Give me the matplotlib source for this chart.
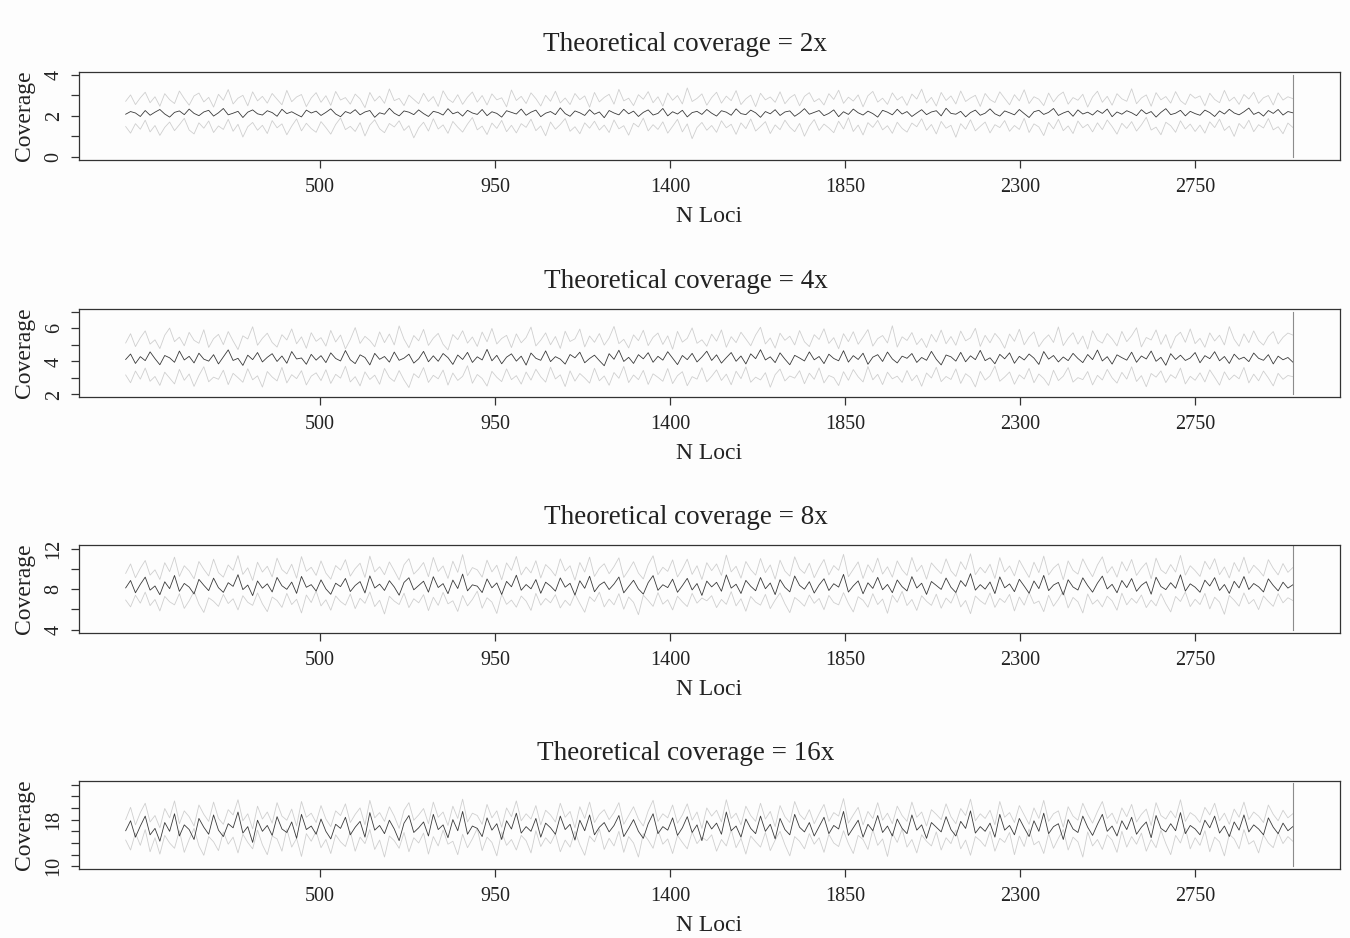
import numpy as np
import matplotlib
matplotlib.use("Agg")
import matplotlib.pyplot as plt

# coverage per locus: dark = mean line, upper/lower = grey lines
dark_2x = [2.08, 2.21, 2.14, 1.97, 2.26, 2.03, 2.18, 2.31, 2.09, 1.94, 2.17, 2.24, 2.06, 2.33, 2.12, 2.01, 2.19, 2.27, 1.99, 2.15,
           2.36, 2.05, 2.13, 2.22, 1.92, 2.18, 2.29, 2.10, 2.04, 2.25, 2.16, 1.98, 2.32, 2.11, 2.20, 2.07, 1.95, 2.28, 2.14, 2.23,
           2.02, 2.17, 2.34, 2.09, 1.96, 2.21, 2.12, 2.30, 2.05, 2.19, 2.26, 1.93, 2.15, 2.08, 2.37, 2.13, 2.00, 2.24, 2.18, 2.06,
           2.29, 2.11, 1.97, 2.22, 2.16, 2.04, 2.35, 2.10, 2.19, 1.99, 2.27, 2.14, 2.07, 2.31, 2.01, 2.20, 2.12, 1.94, 2.25, 2.17,
           2.09, 2.33, 2.03, 2.18, 2.28, 1.96, 2.13, 2.21, 2.06, 2.39, 2.11, 1.98, 2.24, 2.15, 2.02, 2.30, 2.08, 2.19, 1.91, 2.26,
           2.14, 2.05, 2.32, 2.10, 2.23, 1.97, 2.17, 2.29, 2.04, 2.12, 2.36, 2.00, 2.20, 2.09, 2.27, 1.95, 2.16, 2.22, 2.07, 2.31,
           2.13, 1.99, 2.25, 2.18, 2.03, 2.34, 2.11, 2.06, 2.28, 2.15, 1.93, 2.21, 2.10, 2.30, 2.02, 2.19, 2.24, 1.98, 2.14, 2.35,
           2.08, 2.17, 2.26, 2.01, 2.12, 2.29, 1.96, 2.20, 2.07, 2.33, 2.15, 2.04, 2.23, 2.11, 1.94, 2.27, 2.18, 2.05, 2.32, 2.09,
           2.21, 1.97, 2.14, 2.30, 2.06, 2.19, 2.25, 2.00, 2.37, 2.12, 2.08, 2.22, 1.95, 2.16, 2.28, 2.03, 2.13, 2.34, 2.10, 1.99,
           2.24, 2.15, 2.05, 2.31, 2.11, 1.92, 2.20, 2.27, 2.07, 2.17, 2.36, 2.02, 2.14, 2.23, 1.98, 2.29, 2.09, 2.18, 2.04, 2.26,
           2.12, 2.33, 1.96, 2.19, 2.08, 2.25, 2.15, 2.01, 2.30, 2.10, 2.21, 1.94, 2.17, 2.35, 2.06, 2.13, 2.27, 2.00, 2.22, 2.11,
           2.03, 2.28, 2.16, 1.97, 2.24, 2.09, 2.32, 2.14, 2.05, 2.20, 2.38, 2.07, 2.18, 1.99, 2.26, 2.12, 2.31, 2.04, 2.21, 2.15]
upper_2x = [2.71, 3.02, 2.55, 2.88, 3.15, 2.64, 2.93, 2.47, 3.08, 2.79, 2.60, 3.21, 2.84, 2.52, 2.97, 3.11, 2.68, 2.90, 2.43, 3.05,
            2.76, 3.28, 2.58, 2.86, 3.00, 2.49, 3.17, 2.73, 2.95, 2.62, 3.09, 2.81, 2.54, 3.24, 2.69, 2.92, 3.04, 2.45, 2.87, 3.13,
            2.66, 2.98, 2.51, 3.19, 2.77, 2.89, 2.57, 3.06, 2.83, 2.40, 3.14, 2.72, 2.96, 2.61, 3.31, 2.74, 2.85, 2.50, 3.01, 2.80,
            2.59, 3.10, 2.70, 2.94, 2.46, 3.22, 2.82, 2.65, 3.03, 2.56, 2.91, 3.16, 2.67, 2.99, 2.53, 3.07, 2.78, 2.88, 2.44, 3.26,
            2.75, 2.95, 2.60, 3.12, 2.84, 2.48, 3.00, 2.71, 3.20, 2.63, 2.87, 2.55, 3.09, 2.79, 2.97, 2.42, 3.14, 2.68, 2.90, 3.05,
            2.57, 3.29, 2.73, 2.86, 2.50, 3.03, 2.81, 3.18, 2.64, 2.93, 2.47, 3.11, 2.76, 2.99, 2.58, 3.36, 2.70, 2.85, 3.07, 2.52,
            2.89, 3.15, 2.62, 2.96, 2.74, 3.23, 2.55, 2.83, 3.01, 2.45, 3.10, 2.78, 2.92, 2.66, 3.17, 2.59, 2.88, 3.04, 2.49, 2.95,
            3.13, 2.69, 2.84, 2.53, 3.08, 2.80, 3.25, 2.61, 2.91, 2.72, 3.02, 2.44, 2.98, 3.19, 2.67, 2.86, 2.56, 3.12, 2.77, 2.94,
            2.51, 3.06, 2.82, 3.30, 2.63, 2.90, 2.48, 3.14, 2.75, 2.97, 2.58, 3.21, 2.70, 2.87, 3.00, 2.46, 3.09, 2.79, 2.65, 3.17,
            2.85, 2.54, 3.03, 2.73, 3.27, 2.60, 2.93, 2.81, 2.50, 3.11, 2.68, 2.99, 3.16, 2.57, 2.89, 2.76, 3.05, 2.43, 2.92, 3.20,
            2.66, 2.95, 2.52, 3.08, 2.83, 2.71, 3.32, 2.59, 2.87, 3.02, 2.47, 3.13, 2.78, 2.94, 2.62, 3.18, 2.74, 2.55, 3.06, 2.86,
            2.97, 2.49, 3.10, 2.80, 2.64, 3.24, 2.72, 2.91, 2.56, 3.04, 2.82, 3.15, 2.61, 2.88, 2.99, 2.53, 3.12, 2.77, 2.93, 2.84]
lower_2x = [1.48, 1.16, 1.62, 1.35, 1.79, 1.22, 1.53, 1.05, 1.44, 1.70, 1.28, 1.57, 1.88, 1.31, 1.12, 1.66, 1.40, 1.75, 1.19, 1.51,
            1.34, 1.83, 1.25, 1.59, 0.97, 1.47, 1.68, 1.30, 1.54, 1.14, 1.77, 1.42, 1.61, 1.08, 1.50, 1.85, 1.27, 1.64, 1.38, 1.20,
            1.72, 1.43, 1.11, 1.58, 1.90, 1.33, 1.49, 1.24, 1.67, 1.02, 1.55, 1.81, 1.37, 1.18, 1.63, 1.46, 1.76, 1.29, 1.52, 0.93,
            1.41, 1.69, 1.26, 1.86, 1.36, 1.56, 1.15, 1.73, 1.45, 1.21, 1.60, 1.92, 1.32, 1.50, 1.09, 1.65, 1.39, 1.78, 1.23, 1.54,
            1.17, 1.62, 1.44, 1.84, 1.28, 1.51, 1.03, 1.70, 1.35, 1.58, 1.87, 1.25, 1.47, 1.13, 1.66, 1.40, 1.74, 1.31, 1.55, 1.19,
            1.80, 1.37, 1.52, 1.06, 1.64, 1.46, 1.89, 1.27, 1.57, 1.34, 1.71, 1.16, 1.49, 1.83, 1.22, 1.61, 0.89, 1.43, 1.68, 1.30,
            1.53, 1.20, 1.76, 1.42, 1.59, 1.10, 1.66, 1.38, 1.85, 1.26, 1.48, 1.72, 1.14, 1.56, 1.33, 1.79, 1.45, 1.23, 1.63, 1.01,
            1.50, 1.82, 1.29, 1.60, 1.41, 1.18, 1.74, 1.36, 1.91, 1.24, 1.55, 1.07, 1.67, 1.44, 1.78, 1.32, 1.52, 1.15, 1.69, 1.39,
            1.21, 1.65, 1.47, 1.86, 1.30, 1.58, 1.12, 1.73, 1.40, 1.54, 0.96, 1.62, 1.35, 1.81, 1.27, 1.49, 1.70, 1.17, 1.57, 1.43,
            1.77, 1.25, 1.53, 1.34, 1.88, 1.19, 1.61, 1.46, 1.04, 1.68, 1.37, 1.83, 1.28, 1.51, 1.14, 1.75, 1.42, 1.59, 1.22, 1.66,
            1.33, 1.80, 1.48, 1.11, 1.64, 1.39, 1.72, 1.26, 1.56, 1.93, 1.31, 1.45, 1.08, 1.69, 1.52, 1.20, 1.76, 1.36, 1.60, 1.24,
            1.55, 1.16, 1.71, 1.43, 1.84, 1.29, 1.50, 1.00, 1.63, 1.38, 1.79, 1.23, 1.57, 1.41, 1.87, 1.32, 1.47, 1.13, 1.65, 1.44]

dark_4x = [4.12, 4.45, 3.88, 4.29, 4.05, 4.58, 4.17, 3.80, 4.36, 4.22, 3.95, 4.63, 4.09, 4.31, 3.91, 4.50, 4.14, 4.02, 4.41, 3.85,
           4.27, 4.70, 4.06, 4.19, 3.76, 4.38, 4.11, 4.54, 3.97, 4.25, 4.47, 4.00, 4.33, 3.89, 4.60, 4.15, 4.21, 3.83, 4.43, 4.08,
           4.35, 3.93, 4.52, 4.18, 4.03, 4.66, 4.10, 3.87, 4.40, 4.24, 3.79, 4.49, 4.13, 4.30, 3.96, 4.57, 4.07, 4.20, 4.44, 3.90,
           4.16, 4.61, 3.98, 4.34, 4.01, 4.48, 4.23, 3.82, 4.39, 4.12, 4.55, 3.94, 4.28, 4.09, 4.73, 4.04, 4.37, 3.86, 4.26, 4.46,
           4.02, 4.32, 3.78, 4.51, 4.19, 4.07, 4.64, 3.99, 4.29, 4.14, 3.84, 4.42, 4.22, 4.56, 3.92, 4.18, 4.38, 4.05, 3.74, 4.47,
           4.13, 4.68, 4.00, 4.25, 3.88, 4.41, 4.16, 4.53, 3.95, 4.31, 4.08, 4.59, 4.20, 3.81, 4.36, 4.11, 4.49, 3.97, 4.27, 4.62,
           4.06, 4.40, 3.90, 4.23, 4.54, 4.01, 4.33, 3.85, 4.46, 4.17, 4.71, 4.09, 4.28, 3.93, 4.52, 4.14, 3.80, 4.37, 4.21, 4.03,
           4.58, 4.10, 4.30, 3.87, 4.44, 4.18, 4.04, 4.65, 3.96, 4.35, 4.12, 4.50, 3.83, 4.26, 4.41, 4.00, 4.57, 4.15, 3.91, 4.32,
           4.19, 4.48, 3.94, 4.24, 4.07, 4.61, 4.13, 3.79, 4.39, 4.28, 4.02, 4.55, 3.98, 4.34, 4.11, 4.67, 4.05, 4.22, 3.86, 4.43,
           4.16, 4.52, 3.89, 4.31, 4.09, 4.45, 4.20, 3.82, 4.60, 4.14, 4.36, 3.97, 4.27, 4.05, 4.49, 4.18, 3.93, 4.42, 4.11, 4.69,
           4.03, 4.29, 3.84, 4.40, 4.23, 4.08, 4.56, 3.95, 4.33, 4.15, 4.63, 4.01, 4.25, 3.77, 4.47, 4.12, 4.38, 4.06, 4.21, 4.54,
           3.92, 4.35, 4.17, 4.59, 4.04, 4.30, 3.88, 4.44, 4.13, 4.26, 3.99, 4.51, 4.19, 4.07, 4.41, 3.85, 4.32, 4.10, 4.24, 3.96]
upper_4x = [5.12, 5.68, 4.90, 5.43, 5.85, 5.05, 5.31, 4.78, 5.59, 6.02, 5.20, 5.47, 4.95, 5.76, 5.28, 5.10, 5.92, 4.85, 5.38, 5.64,
            5.02, 5.81, 5.24, 4.72, 5.55, 5.36, 6.10, 4.98, 5.40, 5.71, 5.15, 4.87, 5.62, 5.30, 5.97, 5.07, 5.49, 4.80, 5.74, 5.22,
            5.44, 4.93, 5.88, 5.18, 5.60, 4.76, 5.33, 6.05, 5.09, 5.52, 5.27, 4.89, 5.79, 5.14, 5.66, 5.00, 6.15, 5.35, 4.83, 5.57,
            5.25, 5.94, 4.97, 5.41, 5.70, 5.04, 4.70, 5.63, 5.32, 5.86, 5.11, 5.48, 4.91, 5.78, 5.19, 6.00, 5.06, 5.39, 5.58, 4.84,
            5.67, 5.13, 5.45, 6.08, 4.94, 5.29, 5.73, 5.01, 5.51, 4.79, 5.83, 5.21, 5.37, 5.96, 4.88, 5.54, 5.16, 5.69, 4.99, 5.42,
            6.12, 5.08, 5.34, 4.82, 5.61, 5.26, 5.89, 4.96, 5.46, 5.72, 5.03, 5.55, 4.74, 5.82, 5.17, 5.40, 6.03, 5.10, 5.31, 4.92,
            5.65, 5.23, 5.91, 4.86, 5.50, 5.14, 5.77, 5.36, 4.95, 5.60, 6.07, 5.06, 5.42, 4.81, 5.71, 5.28, 5.53, 5.00, 5.87, 5.19,
            4.90, 5.62, 5.33, 5.98, 5.09, 5.44, 4.77, 5.68, 5.20, 5.80, 5.04, 5.47, 5.93, 4.93, 5.38, 5.57, 5.12, 6.16, 4.87, 5.49,
            5.27, 5.75, 5.02, 5.39, 4.84, 5.64, 5.18, 5.90, 5.07, 5.51, 4.98, 5.84, 5.25, 5.43, 6.01, 4.91, 5.58, 5.13, 5.70, 5.35,
            4.80, 5.66, 5.22, 5.95, 5.01, 5.48, 5.79, 4.89, 5.32, 5.61, 5.15, 6.09, 4.96, 5.41, 5.74, 5.05, 5.54, 4.75, 5.86, 5.29,
            5.11, 5.69, 5.37, 4.94, 5.82, 5.20, 5.56, 6.04, 4.88, 5.45, 5.30, 5.91, 5.03, 5.63, 4.79, 5.50, 5.77, 5.16, 5.97, 5.08,
            5.40, 4.86, 5.73, 5.24, 5.59, 5.00, 6.11, 5.34, 4.92, 5.67, 5.14, 5.85, 5.26, 4.99, 5.52, 5.81, 5.06, 5.46, 5.72, 5.60]
lower_4x = [3.18, 2.71, 3.42, 2.93, 3.60, 2.80, 3.09, 2.55, 3.35, 3.00, 2.64, 3.52, 2.86, 3.24, 2.49, 3.15, 3.68, 2.77, 3.05, 2.92,
            3.47, 2.60, 3.28, 3.02, 2.74, 3.56, 2.89, 3.13, 2.45, 3.39, 3.06, 2.82, 3.64, 2.70, 3.20, 2.96, 3.44, 2.58, 3.11, 3.31,
            2.84, 3.50, 2.67, 3.22, 2.99, 3.71, 2.76, 3.08, 2.52, 3.37, 2.91, 3.17, 2.62, 3.58, 3.03, 2.79, 3.45, 2.88, 2.42, 3.26,
            3.01, 3.63, 2.73, 3.16, 2.95, 3.48, 2.57, 3.30, 2.85, 3.10, 3.74, 2.68, 3.21, 2.97, 2.51, 3.40, 3.04, 2.78, 3.55, 2.90,
            3.14, 2.63, 3.36, 2.87, 3.53, 3.07, 2.75, 3.66, 2.94, 3.19, 2.48, 3.43, 2.81, 3.27, 3.00, 2.69, 3.59, 2.83, 3.12, 2.56,
            3.33, 2.98, 3.70, 2.72, 3.18, 2.90, 3.46, 2.61, 3.25, 3.04, 2.80, 3.57, 2.66, 3.14, 3.38, 2.53, 3.08, 2.93, 3.62, 2.77,
            3.10, 3.49, 2.85, 3.23, 2.59, 3.41, 2.96, 3.67, 2.74, 3.05, 2.88, 3.32, 2.44, 3.20, 3.54, 2.82, 3.12, 2.99, 3.44, 2.65,
            3.29, 2.92, 3.61, 2.70, 3.15, 3.02, 2.54, 3.38, 2.86, 3.51, 3.07, 2.76, 3.69, 2.89, 3.22, 2.60, 3.35, 2.95, 3.11, 2.73,
            3.45, 2.83, 3.17, 2.50, 3.30, 3.00, 3.65, 2.78, 3.09, 2.91, 3.55, 2.67, 3.26, 3.03, 2.46, 3.40, 2.87, 3.13, 3.72, 2.80,
            3.06, 3.36, 2.62, 3.19, 2.94, 3.58, 2.71, 3.24, 2.97, 2.55, 3.47, 2.84, 3.11, 3.63, 2.75, 3.02, 2.90, 3.39, 2.58, 3.16,
            2.88, 3.52, 3.01, 2.69, 3.34, 2.93, 3.68, 2.79, 3.14, 2.47, 3.27, 3.05, 3.43, 2.72, 3.20, 2.98, 3.60, 2.64, 3.10, 2.86,
            3.31, 2.76, 3.49, 3.04, 2.57, 3.37, 2.89, 3.18, 2.95, 3.64, 2.70, 3.23, 2.83, 3.42, 3.00, 2.52, 3.28, 2.92, 3.15, 3.08]

dark_8x = [8.12, 8.85, 7.64, 8.47, 9.18, 7.90, 8.31, 7.45, 8.72, 8.05, 9.34, 7.78, 8.56, 8.20, 7.52, 8.96, 8.38, 7.85, 9.08, 8.14,
           7.68, 8.63, 8.27, 9.42, 7.95, 8.40, 7.36, 8.80, 8.09, 8.52, 7.72, 9.15, 8.33, 7.98, 8.69, 7.58, 9.25, 8.18, 8.44, 7.81,
           8.91, 8.02, 7.49, 8.58, 8.25, 9.05, 7.76, 8.36, 8.74, 7.62, 9.30, 8.11, 8.49, 7.87, 8.83, 8.21, 7.40, 8.66, 9.12, 7.93,
           8.35, 8.78, 7.70, 9.22, 8.16, 8.54, 7.55, 8.89, 8.06, 9.48, 7.83, 8.42, 8.29, 7.66, 9.00, 8.13, 8.61, 7.47, 8.76, 8.23,
           9.37, 7.89, 8.45, 8.03, 8.94, 7.59, 8.68, 8.30, 7.80, 9.10, 8.19, 8.57, 7.42, 8.82, 8.08, 9.27, 7.74, 8.39, 8.71, 7.96,
           8.50, 9.19, 7.63, 8.26, 8.87, 8.01, 7.51, 8.64, 9.33, 7.88, 8.43, 8.15, 8.98, 7.69, 8.34, 9.06, 7.92, 8.55, 7.38, 8.79,
           8.22, 8.67, 7.79, 9.40, 8.10, 8.48, 7.57, 8.86, 8.28, 7.84, 9.14, 8.04, 8.60, 7.46, 8.93, 8.17, 7.73, 9.29, 8.37, 7.99,
           8.73, 7.61, 8.41, 9.02, 7.86, 8.53, 8.20, 9.45, 7.71, 8.32, 8.81, 7.54, 8.62, 8.07, 9.16, 7.94, 8.46, 7.65, 8.90, 8.24,
           7.82, 9.23, 8.11, 8.58, 7.48, 8.75, 8.36, 7.97, 9.09, 8.18, 7.67, 8.84, 8.27, 9.52, 7.90, 8.44, 8.00, 8.70, 7.56, 9.20,
           8.13, 8.51, 7.75, 8.97, 8.30, 7.60, 8.80, 8.05, 9.35, 7.85, 8.40, 8.66, 7.43, 8.92, 8.21, 7.91, 9.11, 8.34, 7.70, 8.59,
           9.28, 8.02, 8.47, 7.64, 8.85, 8.15, 9.04, 7.79, 8.38, 8.73, 7.50, 9.17, 8.26, 7.95, 8.63, 8.09, 9.41, 7.81, 8.52, 8.19,
           7.69, 8.88, 8.31, 9.13, 7.87, 8.45, 7.58, 8.77, 8.12, 9.24, 7.96, 8.55, 8.23, 7.72, 9.01, 8.36, 7.83, 8.68, 8.10, 8.42]
upper_8x = [9.55, 10.48, 9.12, 10.05, 10.82, 9.38, 9.90, 8.95, 10.60, 9.72, 11.15, 9.25, 10.30, 9.80, 9.02, 10.72, 9.95, 9.30, 10.95, 9.62,
            9.18, 10.38, 9.85, 11.30, 9.45, 10.10, 8.85, 10.65, 9.68, 10.25, 9.20, 11.05, 9.92, 9.50, 10.45, 9.08, 11.20, 9.75, 10.15, 9.35,
            10.78, 9.58, 8.98, 10.32, 9.88, 10.90, 9.28, 10.02, 10.55, 9.15, 11.25, 9.70, 10.20, 9.42, 10.68, 9.82, 8.90, 10.40, 11.00, 9.48,
            9.98, 10.62, 9.22, 11.12, 9.74, 10.28, 9.05, 10.75, 9.65, 11.40, 9.32, 10.12, 9.90, 9.18, 10.85, 9.70, 10.35, 8.92, 10.58, 9.85,
            11.22, 9.40, 10.18, 9.60, 10.80, 9.10, 10.42, 9.95, 9.30, 10.98, 9.78, 10.30, 8.88, 10.62, 9.68, 11.15, 9.25, 10.05, 10.50, 9.52,
            10.22, 11.08, 9.15, 9.88, 10.70, 9.58, 9.00, 10.40, 11.28, 9.42, 10.15, 9.75, 10.88, 9.20, 9.98, 10.95, 9.45, 10.30, 8.95, 10.60,
            9.82, 10.48, 9.35, 11.35, 9.70, 10.25, 9.08, 10.72, 9.92, 9.38, 11.02, 9.62, 10.38, 8.98, 10.85, 9.78, 9.28, 11.18, 10.00, 9.55,
            10.55, 9.12, 10.10, 10.92, 9.40, 10.32, 9.85, 11.42, 9.22, 9.95, 10.68, 9.05, 10.40, 9.65, 11.05, 9.48, 10.20, 9.18, 10.78, 9.90,
            9.35, 11.12, 9.72, 10.35, 8.98, 10.58, 10.02, 9.52, 10.98, 9.80, 9.25, 10.70, 9.92, 11.48, 9.42, 10.15, 9.60, 10.45, 9.05, 11.10,
            9.70, 10.28, 9.30, 10.85, 9.98, 9.15, 10.65, 9.62, 11.25, 9.40, 10.08, 10.50, 8.92, 10.78, 9.85, 9.48, 10.98, 10.02, 9.22, 10.38,
            11.18, 9.58, 10.22, 9.18, 10.70, 9.78, 10.92, 9.35, 10.05, 10.60, 9.02, 11.05, 9.90, 9.52, 10.42, 9.68, 11.32, 9.38, 10.30, 9.82,
            9.25, 10.75, 9.95, 11.00, 9.42, 10.18, 9.10, 10.62, 9.72, 11.15, 9.55, 10.35, 9.88, 9.28, 10.90, 10.05, 9.40, 10.52, 9.65, 10.12]
lower_8x = [6.92, 6.25, 7.40, 6.62, 7.70, 6.38, 6.98, 5.85, 7.28, 6.75, 6.45, 7.55, 6.10, 6.85, 7.78, 6.52, 5.70, 7.15, 6.80, 6.30,
            7.48, 6.58, 7.05, 5.95, 7.35, 6.70, 6.40, 7.62, 6.55, 5.78, 7.22, 6.88, 6.20, 7.58, 6.48, 7.00, 5.65, 7.42, 6.68, 7.82,
            6.35, 6.95, 5.92, 7.32, 6.78, 6.42, 7.52, 6.08, 7.10, 6.60, 7.72, 6.28, 6.90, 5.55, 7.30, 6.82, 6.48, 7.60, 6.18, 7.05,
            6.65, 7.45, 5.88, 7.20, 6.40, 7.68, 6.55, 6.85, 5.80, 7.38, 6.35, 6.98, 7.80, 6.12, 7.15, 6.72, 5.60, 7.50, 6.50, 6.92,
            6.22, 7.32, 6.82, 5.90, 7.58, 6.42, 7.08, 6.65, 7.45, 6.15, 6.90, 6.38, 7.52, 6.58, 5.72, 7.25, 6.78, 7.70, 6.25, 7.02,
            6.45, 7.55, 6.02, 7.22, 6.70, 5.48, 7.40, 6.88, 6.30, 7.65, 6.52, 6.95, 5.95, 7.30, 6.75, 6.28, 7.58, 6.62, 7.12, 6.85,
            7.35, 6.18, 6.98, 6.50, 7.75, 6.35, 7.05, 5.82, 7.28, 6.72, 6.42, 7.48, 6.08, 6.92, 7.62, 6.55, 5.68, 7.18, 6.80, 6.32,
            7.42, 6.60, 7.08, 5.98, 7.38, 6.68, 6.45, 7.65, 6.58, 5.75, 7.25, 6.90, 6.22, 7.55, 6.48, 7.02, 5.62, 7.40, 6.70, 7.78,
            6.38, 6.98, 5.90, 7.35, 6.80, 6.40, 7.50, 6.12, 7.12, 6.62, 7.70, 6.25, 6.88, 5.58, 7.32, 6.85, 6.50, 7.62, 6.20, 7.08,
            6.68, 7.48, 5.85, 7.22, 6.42, 7.68, 6.58, 6.82, 5.78, 7.40, 6.32, 7.00, 7.82, 6.15, 7.18, 6.75, 5.65, 7.52, 6.52, 6.95,
            6.25, 7.30, 6.85, 5.92, 7.60, 6.45, 7.10, 6.62, 7.42, 6.18, 6.92, 6.35, 7.55, 6.55, 5.75, 7.28, 6.78, 7.72, 6.28, 7.00,
            6.48, 7.58, 6.05, 7.20, 6.72, 5.52, 7.38, 6.90, 6.32, 7.62, 6.55, 6.98, 5.98, 7.32, 6.78, 6.30, 7.55, 6.65, 7.15, 6.88]

dark_16x = [16.1, 17.8, 15.0, 16.9, 18.6, 15.4, 16.5, 14.3, 17.5, 16.0, 19.0, 15.2, 17.1, 16.3, 14.6, 18.2, 16.7, 15.5, 18.8, 16.2,
            15.1, 17.3, 16.6, 19.3, 15.7, 16.8, 14.1, 17.9, 16.0, 17.0, 15.3, 18.5, 16.4, 15.8, 17.6, 14.8, 18.9, 16.3, 16.9, 15.5,
            18.1, 16.0, 14.7, 17.2, 16.5, 18.4, 15.4, 16.7, 17.7, 15.0, 19.2, 16.2, 17.0, 15.6, 17.9, 16.4, 14.4, 17.4, 18.7, 15.8,
            16.6, 17.6, 15.2, 18.9, 16.3, 17.1, 14.9, 18.0, 16.1, 19.4, 15.5, 16.9, 16.5, 15.1, 18.3, 16.2, 17.3, 14.6, 17.8, 16.4,
            19.1, 15.7, 16.8, 16.0, 18.2, 15.0, 17.4, 16.6, 15.5, 18.6, 16.3, 17.2, 14.5, 17.9, 16.1, 18.8, 15.4, 16.7, 17.5, 15.9,
            17.0, 18.7, 15.1, 16.5, 18.0, 16.0, 14.8, 17.3, 19.0, 15.6, 16.8, 16.2, 18.3, 15.3, 16.6, 18.5, 15.8, 17.1, 14.4, 17.8,
            16.4, 17.4, 15.5, 19.3, 16.1, 16.9, 15.0, 18.1, 16.5, 15.6, 18.6, 16.0, 17.2, 14.7, 18.2, 16.3, 15.4, 18.9, 16.7, 15.9,
            17.5, 15.2, 16.8, 18.4, 15.6, 17.0, 16.4, 19.4, 15.3, 16.6, 17.9, 15.0, 17.2, 16.1, 18.7, 15.8, 16.9, 15.2, 18.1, 16.5,
            15.6, 18.8, 16.2, 17.1, 14.8, 17.5, 16.7, 15.9, 18.5, 16.3, 15.2, 17.7, 16.5, 19.5, 15.7, 16.8, 16.0, 17.4, 15.0, 18.9,
            16.2, 17.0, 15.4, 18.2, 16.6, 15.1, 17.8, 16.0, 19.1, 15.6, 16.8, 17.3, 14.6, 18.0, 16.4, 15.8, 18.6, 16.7, 15.3, 17.2,
            18.9, 16.0, 16.9, 15.2, 17.8, 16.3, 18.4, 15.5, 16.7, 17.6, 14.9, 18.7, 16.5, 15.9, 17.3, 16.1, 19.2, 15.6, 17.0, 16.4,
            15.4, 17.9, 16.6, 18.6, 15.7, 16.9, 15.1, 17.6, 16.2, 18.8, 15.9, 17.1, 16.4, 15.4, 18.3, 16.7, 15.6, 17.4, 16.1, 16.8]
upper_16x = [18.0, 20.1, 17.1, 19.2, 20.8, 17.6, 18.7, 16.6, 19.9, 18.3, 21.2, 17.3, 19.5, 18.5, 16.9, 20.5, 18.9, 17.7, 21.0, 18.2,
             17.2, 19.7, 18.8, 21.4, 17.8, 19.0, 16.4, 20.3, 18.1, 19.3, 17.4, 20.9, 18.6, 17.9, 19.8, 16.9, 21.1, 18.4, 19.1, 17.5,
             20.4, 18.1, 16.8, 19.5, 18.7, 20.7, 17.5, 18.9, 20.0, 17.1, 21.3, 18.3, 19.2, 17.7, 20.2, 18.6, 16.5, 19.6, 20.9, 17.9,
             18.8, 19.9, 17.3, 21.0, 18.4, 19.3, 17.0, 20.3, 18.2, 21.5, 17.6, 19.1, 18.7, 17.2, 20.6, 18.3, 19.5, 16.7, 20.0, 18.5,
             21.2, 17.8, 19.0, 18.1, 20.4, 17.1, 19.6, 18.8, 17.6, 20.8, 18.4, 19.4, 16.6, 20.2, 18.2, 21.0, 17.5, 18.9, 19.7, 18.0,
             19.2, 20.9, 17.2, 18.7, 20.2, 18.1, 16.9, 19.5, 21.3, 17.7, 19.0, 18.3, 20.5, 17.4, 18.8, 20.7, 17.9, 19.3, 16.5, 20.0,
             18.6, 19.6, 17.6, 21.4, 18.2, 19.1, 17.1, 20.3, 18.7, 17.7, 20.8, 18.1, 19.4, 16.8, 20.4, 18.5, 17.5, 21.1, 18.9, 18.0,
             19.7, 17.3, 19.0, 20.6, 17.7, 19.2, 18.6, 21.6, 17.4, 18.8, 20.1, 17.1, 19.4, 18.2, 20.9, 17.9, 19.1, 17.3, 20.3, 18.7,
             17.7, 21.0, 18.4, 19.3, 16.9, 19.7, 18.9, 18.0, 20.7, 18.5, 17.3, 19.9, 18.7, 21.5, 17.8, 19.0, 18.2, 19.6, 17.1, 21.1,
             18.4, 19.2, 17.5, 20.4, 18.8, 17.2, 20.0, 18.2, 21.3, 17.7, 19.0, 19.5, 16.7, 20.2, 18.6, 17.9, 20.8, 18.9, 17.4, 19.4,
             21.1, 18.2, 19.1, 17.3, 20.0, 18.5, 20.6, 17.6, 18.9, 19.8, 17.0, 20.9, 18.7, 18.1, 19.5, 18.3, 21.4, 17.7, 19.2, 18.6,
             17.5, 20.1, 18.8, 20.8, 17.8, 19.1, 17.2, 19.8, 18.4, 21.0, 18.0, 19.3, 18.6, 17.5, 20.5, 18.9, 17.8, 19.6, 18.3, 19.0]
lower_16x = [14.5, 12.8, 15.7, 13.6, 16.3, 12.5, 14.9, 12.1, 15.3, 14.0, 13.1, 16.1, 12.4, 14.6, 16.5, 13.5, 11.9, 15.1, 14.2, 12.7,
             15.9, 13.8, 15.0, 12.3, 15.5, 14.1, 13.0, 16.2, 13.7, 12.0, 15.2, 14.7, 12.6, 16.4, 13.3, 14.8, 11.7, 15.6, 14.3, 16.0,
             13.2, 14.6, 12.2, 15.4, 14.2, 13.4, 16.0, 12.6, 15.0, 13.9, 16.3, 12.9, 14.5, 11.6, 15.2, 14.4, 13.1, 15.8, 12.5, 14.9,
             14.0, 15.7, 12.1, 15.1, 13.5, 16.2, 13.8, 14.3, 12.0, 15.5, 13.2, 14.7, 16.5, 12.7, 15.0, 14.1, 11.8, 15.9, 13.6, 14.6,
             12.8, 15.3, 14.4, 12.3, 16.1, 13.4, 14.9, 13.9, 15.6, 12.5, 14.5, 13.3, 16.0, 13.7, 11.9, 15.2, 14.2, 16.4, 12.9, 14.8,
             13.5, 16.0, 12.4, 15.1, 14.0, 11.6, 15.6, 14.5, 13.1, 16.2, 13.8, 14.7, 12.2, 15.3, 14.1, 13.0, 15.9, 13.9, 15.0, 14.4,
             15.4, 12.6, 14.6, 13.5, 16.3, 13.2, 14.8, 12.1, 15.2, 14.2, 13.3, 15.8, 12.7, 14.5, 16.0, 13.7, 11.8, 15.1, 14.3, 13.0,
             15.6, 13.8, 14.9, 12.4, 15.5, 14.0, 13.4, 16.1, 13.9, 12.2, 15.3, 14.6, 12.9, 16.3, 13.6, 14.7, 11.7, 15.7, 14.1, 16.4,
             13.3, 14.6, 12.3, 15.4, 14.3, 13.5, 15.9, 12.8, 14.9, 13.9, 16.2, 13.0, 14.5, 11.9, 15.1, 14.4, 13.4, 16.0, 12.6, 14.8,
             14.1, 15.8, 12.0, 15.2, 13.4, 16.4, 13.7, 14.3, 12.2, 15.6, 13.1, 14.8, 16.3, 12.8, 15.0, 14.2, 11.6, 15.9, 13.5, 14.6,
             12.9, 15.4, 14.5, 12.4, 16.0, 13.3, 15.1, 13.8, 15.7, 12.6, 14.6, 13.2, 16.2, 13.9, 12.0, 15.3, 14.0, 16.5, 13.0, 14.9,
             13.6, 16.1, 12.5, 15.0, 14.2, 11.8, 15.5, 14.7, 13.0, 16.3, 13.8, 14.4, 12.3, 15.4, 14.0, 13.2, 15.8, 13.9, 15.1, 14.3]

coverages = ["2x", "4x", "8x", "16x"]
n_loci = 3000
# thin vertical segment at the right end of every panel
end_low = [0.0, 2.0, 4.0, 10.0]
end_high = [4.0, 7.0, 12.2, 24.3]
y_limits = [(-0.15, 4.12), (1.85, 7.16), (3.68, 12.32), (9.56, 24.56)]
y_ticks = [[0, 1, 2, 3, 4], [2, 3, 4, 5, 6, 7], [4, 6, 8, 10, 12], [10, 12, 14, 16, 18, 20, 22, 24]]
y_labels = [["0", "", "2", "", "4"], ["2", "", "4", "", "6", ""], ["4", "", "8", "", "12"],
            ["10", "", "", "", "18", "", "", ""]]
x_ticks = [500, 950, 1400, 1850, 2300, 2750]

series = [(dark_2x, upper_2x, lower_2x), (dark_4x, upper_4x, lower_4x),
          (dark_8x, upper_8x, lower_8x), (dark_16x, upper_16x, lower_16x)]

plt.rcParams['font.family'] = ['Liberation Serif', 'DejaVu Serif']

fig = plt.figure(figsize=(13.5, 9.38), dpi=100, facecolor='#fdfdfd')
bottoms = [0.8294, 0.5768, 0.3252, 0.0736]
axis_col = '#333333'
txt_col = '#222222'

for k, (dark, upper, lower) in enumerate(series):
    ax = fig.add_axes([0.0585, bottoms[k], 0.934, 0.0935])
    ax.set_facecolor('#fdfdfd')
    for s in (upper, lower):
        ax.plot(np.linspace(1, n_loci, len(s)), s, color='#cfcfcf', lw=0.6)
    ax.plot(np.linspace(1, n_loci, len(dark)), dark, color='#3a3a3a', lw=0.6)
    ax.plot([n_loci + 1, n_loci + 1], [end_low[k], end_high[k]], color='#8c8c8c', lw=0.8)

    ax.set_xlim(-119, 3121)
    ax.set_ylim(*y_limits[k])
    ax.set_xticks(x_ticks)
    ax.set_xticklabels([str(t) for t in x_ticks])
    ax.set_yticks(y_ticks[k])
    ax.set_yticklabels(y_labels[k], rotation=90, va='center')
    ax.tick_params(axis='both', direction='out', length=6, width=0.9, color=axis_col,
                   labelsize=14.5, labelcolor=txt_col)
    ax.tick_params(axis='x', pad=7)
    ax.tick_params(axis='y', pad=5)
    for sp in ax.spines.values():
        sp.set_color(axis_col)
        sp.set_linewidth(0.9)

    ax.set_xlabel('N Loci', fontsize=17, color=txt_col, labelpad=6.5)
    ax.set_ylabel('Coverage', fontsize=17, color=txt_col, labelpad=7)
    ax.set_title('Theoretical coverage = ' + coverages[k], fontsize=19.5, color=txt_col,
                 x=0.481, pad=15.5)

plt.savefig('out.png', dpi=100, facecolor=fig.get_facecolor())
